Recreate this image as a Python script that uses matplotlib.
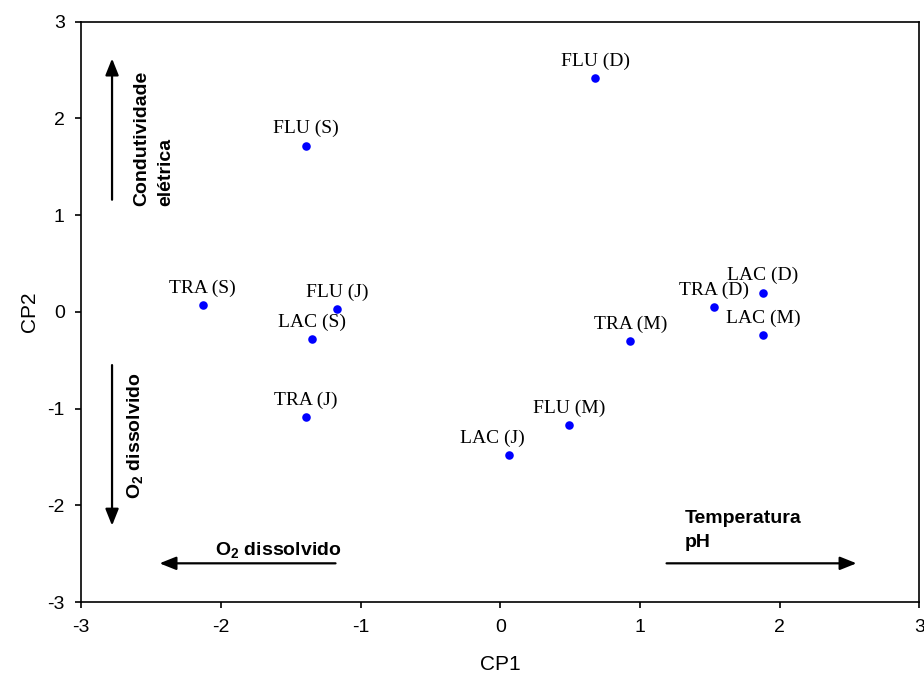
import matplotlib
matplotlib.use("Agg")
import matplotlib.pyplot as plt

plt.rcParams["font.family"] = ["Liberation Sans", "DejaVu Sans"]
plt.rcParams["axes.unicode_minus"] = False

# Escores da ACP (CP1 x CP2) por ambiente e mês de coleta
rotulos = ["FLU (D)", "FLU (S)", "TRA (S)", "FLU (J)", "LAC (S)", "TRA (J)",
           "LAC (J)", "FLU (M)", "TRA (M)", "TRA (D)", "LAC (D)", "LAC (M)"]
cp1 = [0.68, -1.39, -2.13, -1.17, -1.35, -1.39, 0.06, 0.49, 0.93, 1.53, 1.88, 1.88]
cp2 = [2.42, 1.72, 0.07, 0.03, -0.28, -1.09, -1.48, -1.17, -0.30, 0.05, 0.20, -0.24]

# deslocamento dos rótulos em relação ao ponto (pontos tipográficos)
desloc = {"LAC (J)": (-12, 6)}

fig = plt.figure(figsize=(9.24, 6.81), dpi=100)
ax = fig.add_axes([0.088, 0.116, 0.907, 0.852])

ax.scatter(cp1, cp2, s=38, color="#0000ff", zorder=3, linewidths=0)
for nome, x, y in zip(rotulos, cp1, cp2):
    dx, dy = desloc.get(nome, (0, 6))
    ax.annotate(nome, (x, y), xytext=(dx, dy), textcoords="offset points",
                ha="center", va="bottom", fontsize=14,
                family=["Liberation Serif", "DejaVu Serif"])

ax.set_xlim(-3, 3)
ax.set_ylim(-3, 3)
ax.set_xticks(range(-3, 4))
ax.set_yticks(range(-3, 4))
ax.tick_params(direction="out", length=4, width=1.2, labelsize=14, pad=8)
for s in ax.spines.values():
    s.set_linewidth(1.2)
ax.set_xlabel("CP1", fontsize=15, labelpad=14)
ax.set_ylabel("CP2", fontsize=15, labelpad=6)

# setas das variáveis
seta = dict(arrowstyle="-|>,head_length=1.0,head_width=0.4", color="black",
            lw=1.6, shrinkA=0, shrinkB=0)
ax.annotate("", xy=(-2.78, 2.62), xytext=(-2.78, 1.16), arrowprops=seta)
ax.annotate("", xy=(-2.78, -2.21), xytext=(-2.78, -0.55), arrowprops=seta)
ax.annotate("", xy=(-2.44, -2.60), xytext=(-1.18, -2.60), arrowprops=seta)
ax.annotate("", xy=(2.55, -2.60), xytext=(1.19, -2.60), arrowprops=seta)

ax.text(-2.48, 1.09, "Condutividade\nelétrica", rotation=90, ha="center",
        va="bottom", multialignment="left", fontsize=14, fontweight="bold",
        linespacing=1.55)
ax.text(-2.61, -1.28, r"O$_\mathregular{2}$ dissolvido", rotation=90, ha="center",
        va="center", fontsize=14, fontweight="bold")
ax.text(-1.59, -2.47, r"O$_\mathregular{2}$ dissolvido", ha="center", va="center",
        fontsize=14, fontweight="bold")
ax.text(1.32, -2.05, "Temperatura\npH", ha="left", va="top", fontsize=14,
        fontweight="bold", linespacing=1.5)

fig.savefig("out.png", dpi=100)
